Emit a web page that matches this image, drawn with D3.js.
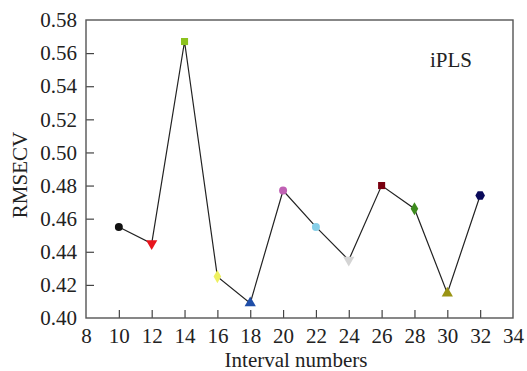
<!DOCTYPE html>
<html>
<head>
<meta charset="utf-8">
<script src="https://cdn.jsdelivr.net/npm/d3@7"></script>
<style>
  body { margin: 0; background: #fff; }
  svg text { font-family: "Liberation Serif", "Times New Roman", serif; fill: #222; }
</style>
</head>
<body>
<div id="chart"></div>
<script>
// interval numbers and RMSECV
var intervals = [10, 12, 14, 16, 18, 20, 22, 24, 26, 28, 30, 32];
var rmsecv = [0.455, 0.445, 0.567, 0.425, 0.409, 0.477, 0.455, 0.435, 0.480, 0.466, 0.415, 0.474];
var markerShapes = ["circle", "triDown", "square", "diamond", "triUp", "circle", "circle", "triDown", "square", "diamond", "triUp", "hexagon"];
var markerColors = ["#111111", "#e8141c", "#8cc21e", "#eef060", "#1f4ea8", "#c060b4", "#86cfe8", "#d4d4d4", "#7a0010", "#3c8a1c", "#9a9414", "#0a0a5a"];
var xTicks = [8, 10, 12, 14, 16, 18, 20, 22, 24, 26, 28, 30, 32, 34];
var yTicks = [0.40, 0.42, 0.44, 0.46, 0.48, 0.50, 0.52, 0.54, 0.56, 0.58];

const W = 527, H = 371;
const mLeft = 86, mRight = 513, mTop = 20, mBottom = 318;
const fontSize = 21;

var svg = d3.select("#chart").append("svg")
    .attr("width", W)
    .attr("height", H)
    .attr("font-family", "Liberation Serif, serif");

var x = d3.scaleLinear().domain([8, 34]).range([mLeft, mRight]);
var y = d3.scaleLinear().domain([0.40, 0.58]).range([mBottom, mTop]);

// inward ticks on bottom and left
var xAxis = d3.axisBottom(x).tickValues(xTicks).tickSize(-8).tickPadding(10).tickSizeOuter(0).tickFormat(d3.format("d"));
var yAxis = d3.axisLeft(y).tickValues(yTicks).tickSize(-8).tickPadding(9).tickSizeOuter(0).tickFormat(d3.format(".2f"));

var gx = svg.append("g").attr("transform", "translate(0," + mBottom + ")").call(xAxis);
var gy = svg.append("g").attr("transform", "translate(" + mLeft + ",0)").call(yAxis);

[gx, gy].forEach(function(g) {
  g.attr("font-family", "Liberation Serif, serif").attr("font-size", fontSize);
  g.select(".domain").remove();
  g.selectAll(".tick line").attr("stroke", "#444").attr("stroke-width", 1.2);
  g.selectAll(".tick text").attr("fill", "#222");
});
gx.selectAll(".tick line").filter(function(d) { return d === 8 || d === 34; }).remove();
gy.selectAll(".tick line").filter(function(d) { return d === 0.40 || d === 0.58; }).remove();
gx.selectAll(".tick text").attr("dy", null).attr("y", 25);

// frame
svg.append("rect")
    .attr("x", mLeft).attr("y", mTop)
    .attr("width", mRight - mLeft).attr("height", mBottom - mTop)
    .attr("fill", "none").attr("stroke", "#555").attr("stroke-width", 1.4);

var line = d3.line()
    .x(function(d, i) { return x(intervals[i]); })
    .y(function(d) { return y(d); });

svg.append("path")
    .datum(rmsecv)
    .attr("d", line)
    .attr("fill", "none")
    .attr("stroke", "#222")
    .attr("stroke-width", 1.2);

var symbolMap = {
  circle: d3.symbol().type(d3.symbolCircle).size(50),
  square: d3.symbol().type(d3.symbolSquare).size(50),
  diamond: d3.symbol().type(d3.symbolDiamond).size(50),
  triUp: d3.symbol().type(d3.symbolTriangle).size(55),
  triDown: d3.symbol().type(d3.symbolTriangle).size(55)
};

function hexPath(r) {
  var pts = d3.range(6).map(function(k) {
    var a = Math.PI / 3 * k;
    return [r * Math.cos(a), r * Math.sin(a)];
  });
  return "M" + pts.join("L") + "Z";
}

svg.selectAll(".pt")
    .data(rmsecv)
    .enter()
    .append("path")
    .attr("class", "pt")
    .attr("d", function(d, i) {
      var s = markerShapes[i];
      if (s === "hexagon") return hexPath(4.8);
      return symbolMap[s]();
    })
    .attr("transform", function(d, i) {
      var t = "translate(" + x(intervals[i]) + "," + y(d) + ")";
      if (markerShapes[i] === "triDown") t += " rotate(180)";
      return t;
    })
    .attr("fill", function(d, i) { return markerColors[i]; })
    .attr("stroke", "none");

svg.append("text")
    .attr("x", 451).attr("y", 67)
    .attr("text-anchor", "middle")
    .attr("font-size", fontSize)
    .text("iPLS");

svg.append("text")
    .attr("x", 296).attr("y", 367)
    .attr("text-anchor", "middle")
    .attr("font-size", fontSize)
    .text("Interval numbers");

svg.append("text")
    .attr("transform", "translate(27,175) rotate(-90)")
    .attr("text-anchor", "middle")
    .attr("font-size", fontSize)
    .text("RMSECV");
</script>
</body>
</html>
